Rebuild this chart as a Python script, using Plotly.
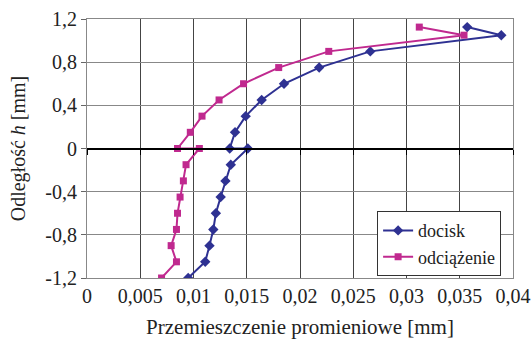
import plotly.graph_objects as go

h_docisk = [1.125, 1.05, 0.9, 0.75, 0.6, 0.45, 0.3, 0.15, 0, 0, -0.15, -0.3, -0.45, -0.6, -0.75, -0.9, -1.05, -1.2]
u_docisk = [0.0357, 0.0389, 0.0266, 0.0218, 0.0185, 0.0164, 0.0149, 0.0139, 0.0134, 0.0151,
            0.0135, 0.0130, 0.01255, 0.0121, 0.01186, 0.0115, 0.0111, 0.0095]
h_odc = [1.125, 1.05, 0.9, 0.75, 0.6, 0.45, 0.3, 0.15, 0, 0, -0.15, -0.3, -0.45, -0.6, -0.75, -0.9, -1.05, -1.2]
u_odc = [0.0312, 0.0354, 0.0227, 0.0180, 0.0147, 0.0124, 0.0108, 0.0097, 0.0085, 0.01055,
         0.0093, 0.00905, 0.00874, 0.0085, 0.0084, 0.0079, 0.0084, 0.0070]

x_ticks = [0, 0.005, 0.01, 0.015, 0.02, 0.025, 0.03, 0.035, 0.04]
x_labels = ["0", "0,005", "0,01", "0,015", "0,02", "0,025", "0,03", "0,035", "0,04"]
y_ticks = [-1.2, -0.8, -0.4, 0, 0.4, 0.8, 1.2]
y_labels = ["-1,2", "-0,8", "-0,4", "0", "0,4", "0,8", "1,2"]

BLUE = "#2E3192"
MAG = "#C0298F"
FONT = "Liberation Serif"

fig = go.Figure()
fig.add_trace(go.Scatter(x=u_docisk, y=h_docisk, mode="lines+markers", name="docisk",
                         line=dict(color=BLUE, width=2),
                         marker=dict(symbol="diamond", size=8, color=BLUE)))
fig.add_trace(go.Scatter(x=u_odc, y=h_odc, mode="lines+markers", name="odciążenie",
                         line=dict(color=MAG, width=2),
                         marker=dict(symbol="square", size=7, color=MAG)))
# invisible trace for the x axis drawn at h = 0
fig.add_trace(go.Scatter(x=[0, 0.04], y=[0, 0], xaxis="x2", mode="none",
                         showlegend=False, hoverinfo="skip"))

tickfont = dict(family=FONT, size=20, color="#222")
fig.update_layout(
    width=531, height=339,
    margin=dict(l=87, r=18, t=19, b=61, autoexpand=False),
    paper_bgcolor="white", plot_bgcolor="white",
    font=dict(family=FONT, size=20, color="#222"),
    showlegend=True,
    legend=dict(x=0.681, y=0.258, xanchor="left", yanchor="top",
                bgcolor="white", bordercolor="#333", borderwidth=1,
                font=dict(family=FONT, size=18, color="#222"),
                tracegroupgap=0, itemwidth=30),
    xaxis=dict(range=[0, 0.04], tickvals=x_ticks, ticktext=x_labels,
               tickfont=tickfont, automargin=False, ticklabeloverflow="allow",
               showgrid=True, gridcolor="#444", gridwidth=1,
               zeroline=False, showline=True, linecolor="#888", linewidth=1,
               mirror=True, ticks="", ticklen=0,
               title=dict(text="Przemieszczenie promieniowe [mm]", standoff=14,
                          font=dict(family=FONT, size=21, color="#222"))),
    xaxis2=dict(range=[0, 0.04], overlaying="x", anchor="free", position=0.5,
                tickvals=x_ticks, showticklabels=False, ticks="outside",
                ticklen=5, tickcolor="#000", tickwidth=1, automargin=False,
                showline=True, linecolor="#000", linewidth=2,
                showgrid=False, zeroline=False, matches="x"),
    yaxis=dict(range=[-1.2, 1.2], tickvals=y_ticks, ticktext=y_labels,
               tickfont=tickfont, automargin=False, ticklabeloverflow="allow",
               showgrid=True, gridcolor="#888", gridwidth=1,
               zeroline=False, showline=True, linecolor="#888", linewidth=1,
               mirror=True, ticks="outside", ticklen=5, tickcolor="#666",
               title=dict(text="Odległość <i>h</i> [mm]", standoff=14,
                          font=dict(family=FONT, size=20, color="#222"))),
)

fig.write_html("out.html")
